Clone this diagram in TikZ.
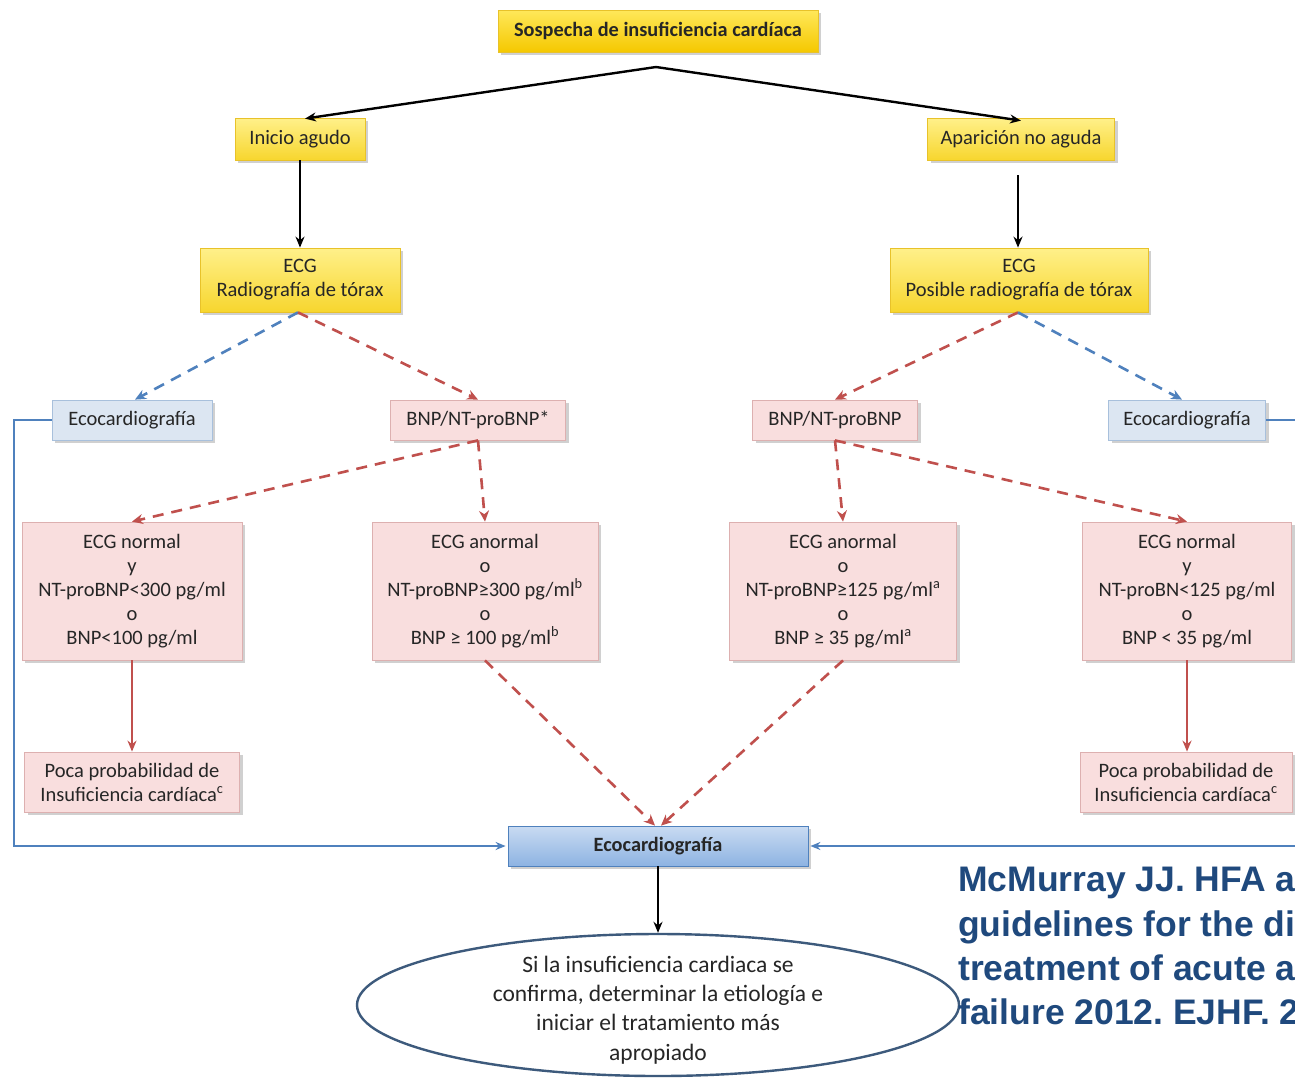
\documentclass[tikz,border=0pt]{standalone}
\usepackage{fontspec}
\setmainfont{Carlito}
\newfontfamily\citefont{Liberation Sans}
\usetikzlibrary{arrows.meta,shadows,shapes.geometric}
\frenchspacing

\definecolor{ylwtop}{HTML}{FFF08A}
\definecolor{ylwbot}{HTML}{F7D62E}
\definecolor{ylwdraw}{HTML}{E8C22A}
\definecolor{headtop}{HTML}{FFE85A}
\definecolor{headbot}{HTML}{F5C800}
\definecolor{pinkfill}{HTML}{F9DEDE}
\definecolor{pinkdraw}{HTML}{DDB0B0}
\definecolor{bluefill}{HTML}{DCE6F2}
\definecolor{bluedraw}{HTML}{A8C0DC}
\definecolor{echotop}{HTML}{C9DBF2}
\definecolor{echobot}{HTML}{8DB3E2}
\definecolor{redline}{HTML}{C0504D}
\definecolor{blueline}{HTML}{4F81BD}
\definecolor{ellline}{HTML}{3D5A7C}
\definecolor{citeblue}{HTML}{1F497D}
\definecolor{bodytext}{HTML}{262626}

\tikzset{
  boxbase/.style={rectangle, align=center, inner sep=0pt, text=bodytext,
    font=\fontsize{20.5}{24}\selectfont,
    drop shadow={shadow xshift=3pt, shadow yshift=-3pt, opacity=0.3, fill=black!60}},
  ybox/.style={boxbase, draw=ylwdraw, line width=0.8pt, top color=ylwtop, bottom color=ylwbot},
  pbox/.style={boxbase, draw=pinkdraw, line width=0.8pt, fill=pinkfill},
  bbox/.style={boxbase, draw=bluedraw, line width=0.8pt, fill=bluefill},
  solidarrow/.style={line width=2.4pt, -{Stealth[length=11pt,width=9pt]}},
  reddash/.style={draw=redline, line width=2.6pt, dash pattern=on 11pt off 8pt,
    -{Stealth[length=11pt,width=10pt]}},
  bluedash/.style={draw=blueline, line width=2.6pt, dash pattern=on 11pt off 8pt,
    -{Stealth[length=11pt,width=10pt]}},
  redsolid/.style={draw=redline, line width=2.2pt, -{Stealth[length=11pt,width=9pt]}},
  bluelink/.style={draw=blueline, line width=2pt, -{Stealth[length=10pt,width=8pt]}},
}

\begin{document}
\begin{tikzpicture}[x=1pt,y=-1pt]
\useasboundingbox (0,0) rectangle (1295,1079);
\fill[white] (0,0) rectangle (1295,1079);
\clip (0,0) rectangle (1295,1079);

% top level
\node[ybox, minimum width=320pt, minimum height=42pt, top color=headtop, bottom color=headbot,
      font=\fontsize{20.3}{22}\selectfont\bfseries] (start) at (658,31) {Sospecha de insuficiencia cardíaca};
\coordinate (split) at (656,67);

\node[ybox, minimum width=130pt, minimum height=42pt] (acute) at (300,139) {Inicio agudo};
\node[ybox, minimum width=187pt, minimum height=42pt] (chronic) at (1021,139) {Aparición no aguda};

\node[ybox, minimum width=200pt, minimum height=64pt] (ecgL) at (300,280) {ECG\\Radiografía de tórax};
\node[ybox, minimum width=258pt, minimum height=64pt] (ecgR) at (1019,280) {ECG\\Posible radiografía de tórax};

% second tier
\node[bbox, minimum width=160pt, minimum height=40pt] (ecoL) at (132,420) {Ecocardiografía};
\node[pbox, minimum width=175pt, minimum height=40pt] (bnpL) at (478,420) {BNP/NT-proBNP*};
\node[pbox, minimum width=165pt, minimum height=40pt] (bnpR) at (835,420) {BNP/NT-proBNP};
\node[bbox, minimum width=157pt, minimum height=40pt] (ecoR) at (1187,420) {Ecocardiografía};

% threshold boxes
\node[pbox, minimum width=220pt, minimum height=138pt] (normL) at (132,591)
  {ECG normal\\y\\NT-proBNP<300 pg/ml\\o\\BNP<100 pg/ml};
\node[pbox, minimum width=226pt, minimum height=138pt] (abnL) at (485,591)
  {ECG anormal\\o\\NT-proBNP≥300 pg/ml\textsuperscript{b}\\o\\BNP ≥ 100 pg/ml\textsuperscript{b}};
\node[pbox, minimum width=227pt, minimum height=138pt] (abnR) at (843,591)
  {ECG anormal\\o\\NT-proBNP≥125 pg/ml\textsuperscript{a}\\o\\BNP ≥ 35 pg/ml\textsuperscript{a}};
\node[pbox, minimum width=209pt, minimum height=138pt] (normR) at (1187,591)
  {ECG normal\\y\\NT-proBN<125 pg/ml\\o\\BNP < 35 pg/ml};

\node[pbox, minimum width=215pt, minimum height=60pt] (lowL) at (132,782)
  {Poca probabilidad de\\Insuficiencia cardíaca\textsuperscript{c}};
\node[pbox, minimum width=212pt, minimum height=60pt] (lowR) at (1186,782)
  {Poca probabilidad de\\Insuficiencia cardíaca\textsuperscript{c}};

% echocardiography and final step
\node[boxbase, draw=blueline, line width=0.8pt, top color=echotop, bottom color=echobot,
      minimum width=300pt, minimum height=40pt, font=\fontsize{20.3}{22}\selectfont\bfseries] (ecoB) at (658,846)
  {Ecocardiografía};
\node[ellipse, draw=ellline, line width=2.4pt, fill=white, minimum width=602pt, minimum height=142pt,
      inner sep=0pt] (final) at (658,1005) {};
\node[align=center, inner sep=0pt, text=bodytext, font=\fontsize{23.5}{29.4}\selectfont] (finaltext) at (658,1010)
  {Si la insuficiencia cardiaca se\\confirma, determinar la etiología e\\iniciar el tratamiento más\\apropiado};

% connectors
\draw[solidarrow] (split) -- ([xshift=5pt,yshift=-1pt]acute.north);
\draw[solidarrow] (split) -- ([yshift=-3pt]chronic.north);
\draw[solidarrow] (acute.south) -- (ecgL.north);
\draw[solidarrow, shorten <=15pt] ([xshift=-3pt]chronic.south) -- ([xshift=-1pt]ecgR.north);

\draw[bluedash] ([xshift=-2pt]ecgL.south) -- ([xshift=3pt]ecoL.north);
\draw[reddash]  ([xshift=-2pt]ecgL.south) -- (bnpL.north);
\draw[reddash]  ([xshift=-1pt]ecgR.south) -- (bnpR.north);
\draw[bluedash] ([xshift=-1pt]ecgR.south) -- ([xshift=-5pt]ecoR.north);

\draw[reddash] (bnpL.south) -- (normL.north);
\draw[reddash] (bnpL.south) -- (abnL.north);
\draw[reddash] (bnpR.south) -- (abnR.north);
\draw[reddash] (bnpR.south) -- (normR.north);

\draw[redsolid] (normL.south) -- (lowL.north);
\draw[redsolid] (normR.south) -- ([xshift=1pt]lowR.north);

\draw[reddash] (abnL.south) -- ([xshift=-3pt]ecoB.north);
\draw[reddash] (abnR.south) -- ([xshift=3pt]ecoB.north);

\draw[bluelink] (ecoL.west) -- ++(-38,0) |- ([xshift=-2pt]ecoB.west);
\draw[bluelink] (ecoR.east) -- ++(45,0) |- ([xshift=2pt]ecoB.east);

\draw[solidarrow, line width=2pt] (ecoB.south) -- (final.north);

% reference (runs past the right edge of the page)
\node[anchor=north west, inner sep=0pt, align=left, text=citeblue,
      font=\citefont\fontsize{35.5}{44.3}\selectfont\bfseries] (cite) at (958,866)
  {McMurray JJ. HFA and\\guidelines for the dia\\treatment of acute and\\failure 2012. EJHF. 20};
\end{tikzpicture}
\end{document}
